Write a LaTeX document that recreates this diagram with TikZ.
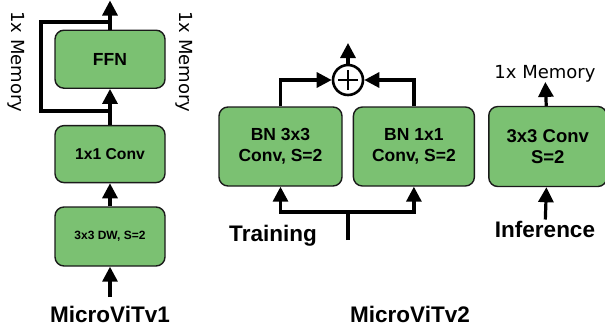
\documentclass[tikz,border=0pt]{standalone}
\usepackage{fontspec}
\setmainfont{Liberation Sans}
\newfontfamily\memfont{DejaVu Sans}
\usetikzlibrary{arrows.meta,positioning}
\definecolor{leaf}{HTML}{7BC172}
\definecolor{ink}{HTML}{1A1A1A}
\tikzset{
  block/.style={draw=ink,rounded corners=9pt,fill=leaf,line width=1.4pt,align=center,inner sep=0pt,minimum width=110pt},
  arr/.style={-{Triangle[length=15pt,width=15pt]},line width=3.2pt},
  wire/.style={line width=3.2pt},
  title/.style={anchor=base,font=\bfseries\fontsize{22.5}{24}\selectfont},
  mem/.style={inner sep=0pt,font=\memfont\fontsize{18}{20}\selectfont}
}

\begin{document}
\begin{tikzpicture}[x=1pt,y=-1pt]
  \useasboundingbox (0,0) rectangle (605,333);
  % MicroViTv1
  \node[block,minimum height=59pt,font=\bfseries\fontsize{12}{14}\selectfont] (dw) at (110,236.5) {3x3 DW, S=2};
  \node[block,minimum height=57pt,above=23pt of dw,font=\bfseries\fontsize{15.7}{18}\selectfont] (pw) {1x1 Conv};
  \node[block,minimum height=58pt,above=36pt of pw,font=\bfseries\fontsize{17.5}{20}\selectfont] (ffn) {FFN};
  \node[title] (v1) at (110,322) {MicroViTv1};
  \node[mem,rotate=-90] (memL) at (16,62) {1x Memory};
  \node[mem,rotate=-90] (memM) at (184,62) {1x Memory};
  \coordinate (in1) at (110,297);
  \coordinate (out1) at (110,0.5);
  \coordinate (fork) at (110,111);
  \coordinate (join) at (110,22);
  \draw[arr] (in1) -- (dw);
  \draw[arr] (dw) -- (pw);
  \draw[arr] (pw) -- (ffn);
  \draw[arr] (ffn) -- (out1);
  \draw[wire] (fork) -| ([xshift=-69pt]join) -- (join);
  % MicroViTv2
  \node[block,minimum width=123pt,minimum height=79pt,font=\bfseries\fontsize{17.5}{21}\selectfont] (bn3) at (280.5,146.5) {BN 3x3\\Conv, S=2};
  \node[block,minimum width=121pt,minimum height=79pt,right=10pt of bn3,font=\bfseries\fontsize{17.5}{21}\selectfont] (bn1) {BN 1x1\\Conv, S=2};
  \node[block,minimum width=118pt,minimum height=80pt,right=13pt of bn1,font=\bfseries\fontsize{18.5}{21}\selectfont] (c33) {3x3 Conv\\S=2};
  \node[circle,draw,line width=2.6pt,minimum size=30pt,inner sep=0pt,
    path picture={
      \draw[line width=2.8pt] ([xshift=-10pt]path picture bounding box.center) -- ([xshift=10pt]path picture bounding box.center);
      \draw[line width=2.8pt] ([yshift=-10pt]path picture bounding box.center) -- ([yshift=10pt]path picture bounding box.center);
    }] (sum) at (348,80) {};
  \coordinate (out2) at (348,43);
  \coordinate (tin) at (348,240);
  \coordinate (tsplit) at (348,212);
  \draw[arr] (sum) -- (out2);
  \draw[arr] (bn3.north) |- (sum);
  \draw[arr] (bn1.north) |- (sum);
  \draw[wire] (tin) -- (tsplit);
  \draw[arr] (tsplit) -| (bn3);
  \draw[arr] (tsplit) -| (bn1);
  \node[title] (train) at (273,241) {Training};
  \node[title] (v2) at (410,322) {MicroViTv2};
  \node[mem,anchor=base] (memR) at (545,78) {1x Memory};
  \node[title,inner sep=1pt] (infer) at (545,237) {Inference};
  \draw[arr] (c33) -- (memR);
  \draw[arr] (infer) -- (c33);
\end{tikzpicture}
\end{document}
